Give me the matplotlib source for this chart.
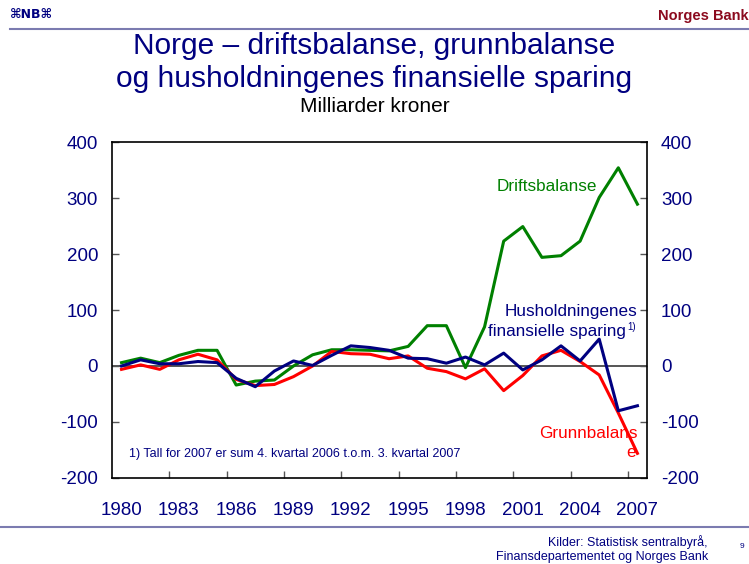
import matplotlib.pyplot as plt
from matplotlib.ticker import FixedLocator
from matplotlib.lines import Line2D

plt.rcParams['font.family'] = ['Liberation Sans', 'DejaVu Sans']
plt.rcParams['axes.unicode_minus'] = False

years = list(range(1980, 2008))
driftsbalanse = [6, 14, 6, 19, 28, 28, -34, -27, -25, 0, 20, 29, 29, 28, 27, 35,
                 72, 72, -3, 70, 223, 249, 194, 197, 223, 301, 354, 289]
husholdning = [0, 11, 4, 4, 8, 6, -22, -37, -9, 9, 1, 19, 36, 33, 28, 14,
               13, 5, 16, 2, 23, -7, 11, 36, 9, 48, -80, -71]
grunnbalanse = [-6, 2, -6, 11, 21, 11, -24, -35, -33, -19, 0, 26, 22, 21, 13, 18,
                -4, -10, -23, -5, -44, -17, 18, 28, 8, -16, -84, -156]

tick_years = [1980, 1983, 1986, 1989, 1992, 1995, 1998, 2001, 2004, 2007]
y_ticks = [-200, -100, 0, 100, 200, 300, 400]

navy = '#000080'
green = '#008000'
red = '#ff0000'

fig = plt.figure(figsize=(7.49, 5.64), dpi=100)
ax = fig.add_axes([0.1495, 0.1525, 0.7143, 0.5957])

ax.axhline(0, color='#555555', lw=1.4, zorder=1)
ax.plot(years, driftsbalanse, color=green, lw=2.2, zorder=3)
ax.plot(years, grunnbalanse, color=red, lw=2.2, zorder=3)
ax.plot(years, husholdning, color=navy, lw=2.2, zorder=4)

ax.set_xlim(1979.5, 2007.5)
ax.set_ylim(-200, 400)

# x labels at categories, tick marks between groups
ax.set_xticks(tick_years)
ax.set_xticklabels([str(y) for y in tick_years])
ax.xaxis.set_minor_locator(FixedLocator([y + 2.5 for y in tick_years[:-1]]))
ax.tick_params(axis='x', which='major', length=0, pad=17, labelsize=13.5, labelcolor=navy)
ax.tick_params(axis='x', which='minor', direction='in', length=5, width=1, color='#555555')

ax.set_yticks(y_ticks)
ax.tick_params(axis='y', which='major', direction='in', length=5, width=1, color='#555555',
               labelsize=13.5, labelcolor=navy, pad=10, right=True, labelright=True)

for s in ax.spines.values():
    s.set_linewidth(1.2)
    s.set_color('black')

# series labels
ax.text(2004.9, 320, 'Driftsbalanse', color=green, fontsize=12.3, ha='right', va='center')
ax.text(2007.0, 98, 'Husholdningenes', color=navy, fontsize=12.3, ha='right', va='center')
ax.text(2006.4, 62, 'finansielle sparing', color=navy, fontsize=12.3, ha='right', va='center')
ax.text(2006.45, 70, '1)', color=navy, fontsize=7, ha='left', va='center')
ax.text(2007.0, -120, 'Grunnbalans', color=red, fontsize=12.3, ha='right', va='center')
ax.text(2006.9, -154, 'e', color=red, fontsize=12.3, ha='right', va='center')
ax.text(1980.4, -157, '1) Tall for 2007 er sum 4. kvartal 2006 t.o.m. 3. kvartal 2007',
        color=navy, fontsize=9, ha='left', va='center')

# titles
fig.text(0.5, 1 - 46 / 564, 'Norge \u2013 driftsbalanse, grunnbalanse', ha='center', va='center',
         color=navy, fontsize=21.5)
fig.text(0.5, 1 - 79 / 564, 'og husholdningenes finansielle sparing', ha='center', va='center',
         color=navy, fontsize=21.5)
fig.text(0.5, 1 - 107 / 564, 'Milliarder kroner', ha='center', va='center', color='black', fontsize=15)

# header / footer
fig.text(10 / 749, 1 - 15 / 564, '\u2318NB\u2318', ha='left', va='center', color=navy,
         fontsize=9, fontweight='bold', family=['DejaVu Sans'])
fig.text(749 / 749, 1 - 16 / 564, 'Norges Bank', ha='right', va='center', color='#8b0a1e',
         fontsize=10.5, fontweight='bold')
fig.add_artist(Line2D([10 / 749, 1], [1 - 29 / 564] * 2, color='#7b7bb0', lw=1.5))
fig.add_artist(Line2D([0, 1], [1 - 527 / 564] * 2, color='#7b7bb0', lw=1.5))
fig.text(708 / 749, 1 - 542 / 564, 'Kilder: Statistisk sentralbyr\u00e5,', ha='right', va='center',
         color=navy, fontsize=9)
fig.text(708 / 749, 1 - 557 / 564, 'Finansdepartementet og Norges Bank', ha='right', va='center',
         color=navy, fontsize=9)
fig.text(742 / 749, 1 - 546 / 564, '9', ha='center', va='center', color=navy, fontsize=6)

fig.savefig('out.png', dpi=100)
